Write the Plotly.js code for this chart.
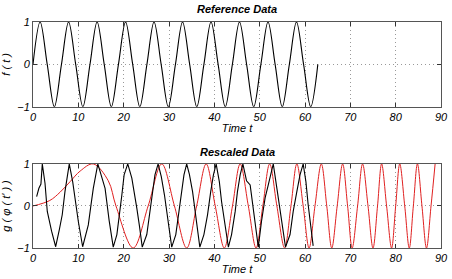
<!DOCTYPE html>
<html>
<head>
<meta charset="utf-8">
<script src="https://cdn.plot.ly/plotly-3.0.1.min.js"></script>
<style>html,body{margin:0;padding:0;background:#fff;}#chart{width:452px;height:279px;}</style>
</head>
<body>
<div id="chart"></div>
<script>
// Reference data f(t): extrema and zero crossings
var refT = [0,1.57,3.14,4.71,6.28,7.85,9.42,11.0,12.57,14.14,15.71,17.28,18.85,20.42,21.99,23.56,25.13,26.7,28.27,29.85,31.42,32.99,34.56,36.13,37.7,39.27,40.84,42.41,43.98,45.55,47.12,48.69,50.27,51.84,53.41,54.98,56.55,58.12,59.69,61.26,62.83];
var refF = [0,1,0,-1,0,1,0,-1,0,1,0,-1,0,1,0,-1,0,1,0,-1,0,1,0,-1,0,1,0,-1,0,1,0,-1,0,1,0,-1,0,1,0,-1,0];

// Rescaled data g(phi(t')) (black, coarse samples)
var gT = [0.8,1.3,1.75,2.05,2.65,3.15,4.1,5.0,5.8,6.45,7.05,8.0,8.75,9.25,10.0,10.95,12.2,12.8,13.3,14.3,15.0,15.9,16.8,17.7,18.5,19.0,19.6,20.1,20.9,21.8,22.4,22.9,23.5,24.1,25.1,25.8,26.3,26.9,27.6,28.3,29.0,29.5,30.2,30.6,31.5,32.2,32.6,33.3,33.9,34.5,35.2,35.7,36.2,36.8,37.7,38.5,39.2,39.8,40.4,41.1,41.6,42.4,43.1,43.8,44.6,45.1,45.7,46.3,47.1,47.9,48.6,49.3,49.7,50.4,51.2,51.9,52.7,53.0,53.8,54.5,55.2,55.7,56.7,57.4,58.2,58.9,59.6,60.2,60.7,61.3,61.8];
var gV = [0.22,0.42,0.52,1,0.54,-0.13,-0.6,-0.97,-0.57,-0.21,0.34,1,0.58,0.19,-0.37,-0.97,-0.45,0.03,0.42,1,0.74,0.42,-0.35,-0.98,-0.68,-0.29,0.26,0.74,1,0.66,0.3,-0.05,-0.49,-0.98,-0.68,-0.09,0.34,0.74,1,0.7,0.26,-0.13,-0.6,-0.98,-0.68,-0.13,0.26,0.74,1,0.75,0.34,-0.09,-0.53,-0.98,-0.68,-0.21,0.34,0.74,1,0.58,0.1,-0.53,-0.98,-0.68,-0.13,0.34,0.74,1,0.6,0.5,-0.13,-0.68,-0.98,-0.37,0.19,0.5,0.9,1,0.42,-0.13,-0.68,-0.98,-0.68,-0.13,0.34,0.74,1,0.58,0.03,-0.5,-0.95];

// Rescaled reference (red chirp)
var rT = [0,3.7,6.0,8.2,10.4,13.3,16.6,18.3,22.1,25.4,28.4,31.2,33.9,36.1,38.2,40.2,42.2,44.0,45.7,47.5,49.2,50.7,52.2,53.8,55.5,56.9,58.2,59.6,60.9,62.2,63.6,64.8,65.9,67.1,68.3,69.4,70.4,71.6,72.7,73.9,75.0,76.0,76.9,78.0,79.1,80.0,80.9,82.0,83.0,83.9,84.8,85.8,86.8,87.8,88.7];
var rV = [0,0.13,0.33,0.58,0.83,1,0.6,0,-1,0,1,0,-1,0,1,0,-1,0,1,0,-1,0,1,0,-1,0,1,0,-1,0,1,0,-1,0,1,0,-1,0,1,0,-1,0,1,0,-1,0,1,0,-1,0,1,0,-1,0,1];

var xTicks = [0,10,20,30,40,50,60,70,80,90];
var yTicks = [-1,0,1];

var tickFont = {family:'Liberation Sans, Arial, sans-serif', size:11, style:'italic', color:'#000'};
var titleFont = {family:'Liberation Sans, Arial, sans-serif', size:11, style:'italic', color:'#000'};

function xax(anchor){
  return {anchor:anchor, range:[0,90], tickvals:xTicks, ticks:'inside', ticklen:4, tickcolor:'#333',
    showline:true, linecolor:'#555', linewidth:1, mirror:'all', showgrid:true, gridcolor:'#999', griddash:'1px,3px', gridwidth:1,
    zeroline:false, tickfont:tickFont, title:{text:'Time t', font:titleFont, standoff:2}};
}
function yax(anchor, domain, title){
  return {anchor:anchor, domain:domain, range:[-1,1], tickvals:yTicks, ticks:'inside', ticklen:4, tickcolor:'#333',
    showline:true, linecolor:'#555', linewidth:1, mirror:'all', showgrid:true, gridcolor:'#999', griddash:'1px,3px', gridwidth:1,
    zeroline:false, tickfont:tickFont, title:{text:title, font:titleFont, standoff:4}};
}

var data = [
  {x:refT, y:refF, xaxis:'x', yaxis:'y', mode:'lines', line:{color:'#000', width:1.1, shape:'spline', smoothing:1}, hoverinfo:'skip'},
  {x:rT, y:rV, xaxis:'x2', yaxis:'y2', mode:'lines', line:{color:'#e02020', width:1, shape:'spline', smoothing:1}, hoverinfo:'skip'},
  {x:gT, y:gV, xaxis:'x2', yaxis:'y2', mode:'lines', line:{color:'#000', width:1.1}, hoverinfo:'skip'}
];

var layout = {
  width:452, height:279, showlegend:false,
  paper_bgcolor:'#fff', plot_bgcolor:'#fff',
  margin:{l:33, r:11, t:22, b:31},
  xaxis: xax('y'),
  yaxis: yax('x', [0.625,1], 'f ( t )'),
  xaxis2: xax('y2'),
  yaxis2: yax('x2', [0,0.372], "g ( φ ( t' ) )"),
  annotations:[
    {text:'Reference Data', xref:'paper', yref:'paper', x:0.5, y:1.056, xanchor:'center', yanchor:'middle', showarrow:false,
     font:{family:'Liberation Sans, Arial, sans-serif', size:11, style:'italic', weight:'bold', color:'#000'}},
    {text:'Rescaled Data', xref:'paper', yref:'paper', x:0.5, y:0.425, xanchor:'center', yanchor:'middle', showarrow:false,
     font:{family:'Liberation Sans, Arial, sans-serif', size:11, style:'italic', weight:'bold', color:'#000'}}
  ]
};

Plotly.newPlot('chart', data, layout, {staticPlot:true, displayModeBar:false});
</script>
</body>
</html>
